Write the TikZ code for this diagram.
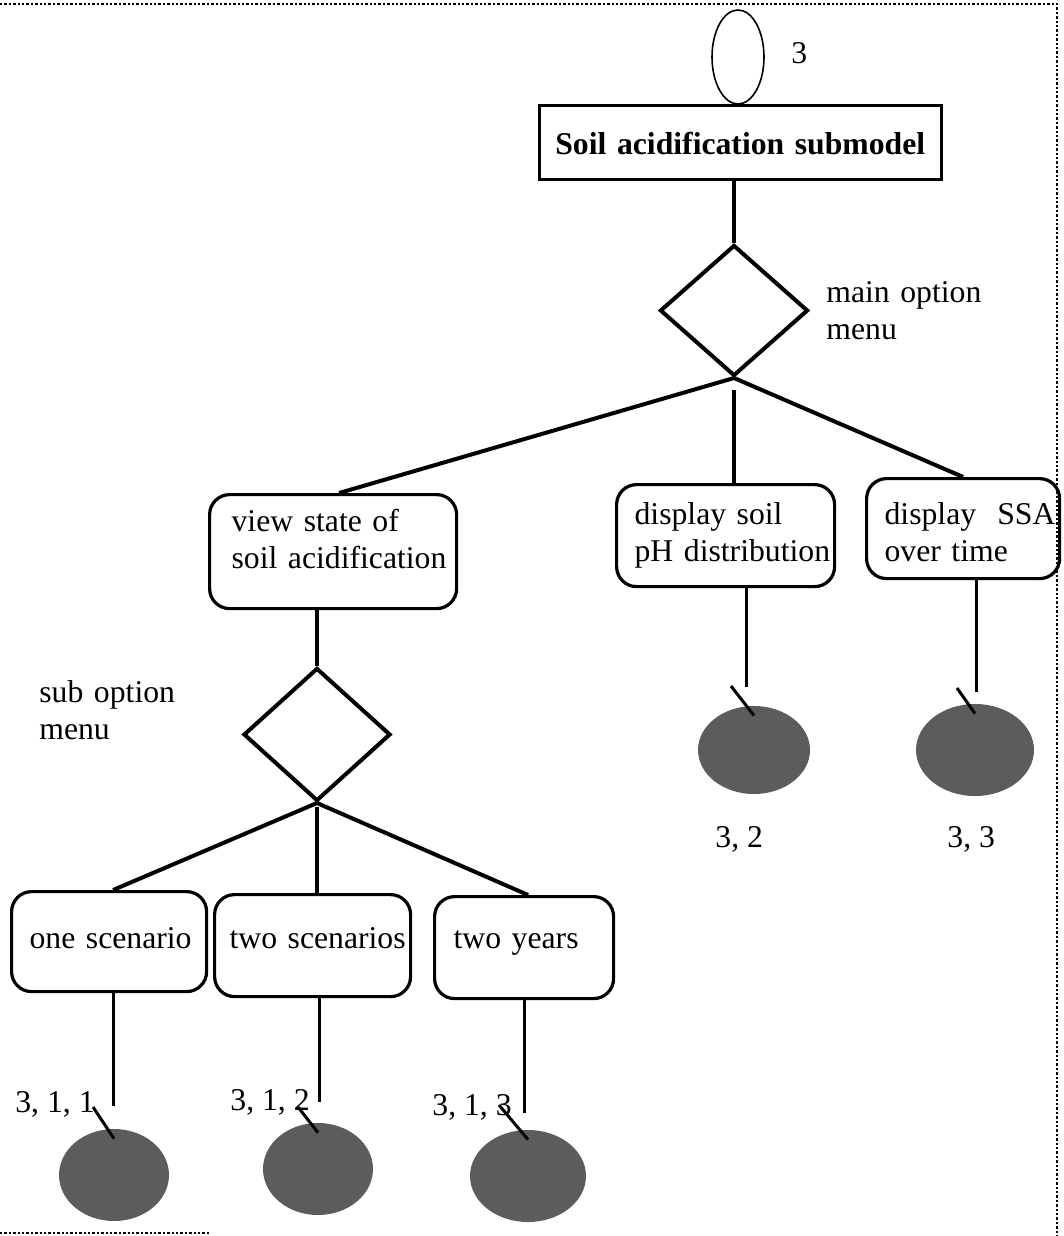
\documentclass[tikz,border=0pt]{standalone}
\usepackage{fontspec}
\setmainfont{Liberation Serif}
\usetikzlibrary{shapes.geometric}

\tikzset{
  opt/.style={draw, rounded corners=10pt, line width=1.6pt, inner sep=0pt, align=left, anchor=north west},
  menu/.style={draw, diamond, line width=2pt, inner sep=0pt},
  branch/.style={line width=2pt},
  stem/.style={line width=1.5pt},
  ball/.style={ellipse, fill=black!64, inner sep=0pt},
  note/.style={anchor=base west, align=left, text width=100pt, inner sep=0pt},
}

\begin{document}
\begin{tikzpicture}[x=0.5pt, y=-0.5pt, font=\fontsize{15.85pt}{18.6pt}\selectfont]
\useasboundingbox (0,0) rectangle (1064,1236);
\draw[densely dotted, line width=1.2pt] (0,4) -- (1057,4) -- (1057,1236);
\draw[densely dotted, line width=1.2pt] (0,1233) -- (210,1233);

\node[draw, ellipse, line width=0.8pt, minimum width=26pt, minimum height=47pt] (start) at (738,57) {};
\node[anchor=base west, inner sep=0pt] (startno) at (791,64) {3};
\node[draw, line width=1.3pt, inner sep=0pt, anchor=north west, text width=201pt, align=center,
      text height=24.5pt, text depth=12.5pt] (title) at (538,104) {\bfseries Soil acidification submodel};

\node[menu, minimum width=74pt, minimum height=65.5pt] (mainmenu) at (734,310.5) {};
\node[note] (mainlbl) at (826,302) {main option\\menu};

\node[opt, inner xsep=11pt, text width=101.5pt, text height=18.5pt, text depth=38.5pt] (view) at (208,493)
  {\mbox{view state of}\\\mbox{soil acidification}};
\node[opt, inner xsep=9pt, text width=91pt, text height=20pt, text depth=31pt] (ph) at (615,483)
  {\mbox{display soil}\\\mbox{pH distribution}};
\node[opt, inner xsep=9pt, text width=78.5pt, text height=23pt, text depth=27pt] (ssa) at (865,477)
  {\mbox{display~~SSA}\\\mbox{over time}};

\node[menu, minimum width=73.5pt, minimum height=66.5pt] (submenu) at (317,734.5) {};
\node[note] (sublbl) at (39,702) {sub option\\menu};

\node[opt, inner xsep=9pt, text width=79.5pt, text height=28.5pt, text depth=21.5pt] (one) at (10,890) {\mbox{one scenario}};
\node[opt, inner xsep=7.5pt, text width=83pt, text height=27pt, text depth=24pt] (two) at (213,893) {\mbox{two scenarios}};
\node[opt, inner xsep=9.5pt, text width=70.5pt, text height=26pt, text depth=25pt] (years) at (433,895) {\mbox{two years}};

\draw[branch] (title.south -| mainmenu.north) -- (mainmenu.north);
\draw[branch] (mainmenu.south) -- ([xshift=3pt]view.north);
\draw[branch] ([yshift=-6pt]mainmenu.south) -- (mainmenu.south |- ph.north);
\draw[branch] (mainmenu.south) -- (ssa.north);
\draw[branch] (view.south -| submenu.north) -- (submenu.north);
\draw[branch] (submenu.south) -- ([xshift=2pt]one.north);
\draw[branch] ([yshift=-2pt]submenu.south) -- (submenu.south |- two.north);
\draw[branch] (submenu.south) -- ([xshift=2pt]years.north);

\foreach \nm/\lx/\ly/\tx/\ty/\bx/\by/\bw/\bh/\num/\nx/\ny in {
  one/113/1106/93/1107/114/1175/55/46/{3, 1, 1}/15/1112,
  two/319/1102/298/1107/318/1169/55/46/{3, 1, 2}/230/1110,
  years/524/1113/499/1105/528/1176/58/46/{3, 1, 3}/432/1115,
  ph/746/687/731/686/754/750/56/44/{3, 2}/715/847,
  ssa/976/692/957/688/975/750/59/46/{3, 3}/947/847}
{
  \coordinate (e-\nm) at (\lx,\ly);
  \coordinate (t-\nm) at (\tx,\ty);
  \node[ball, minimum width=\bw pt, minimum height=\bh pt] (b-\nm) at (\bx,\by) {};
  \node[anchor=base west, inner sep=0pt] (n-\nm) at (\nx,\ny) {\num};
  \draw[stem] (e-\nm |- \nm.south) -- (e-\nm);
  \draw[stem] (t-\nm) -- ([yshift=-5pt]b-\nm.north);
}
\end{tikzpicture}
\end{document}
